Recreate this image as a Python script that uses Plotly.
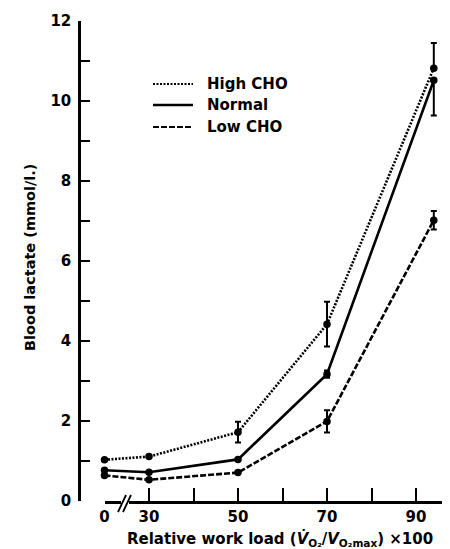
import plotly.graph_objects as go

# ---- data ----
work_load = [0, 30, 50, 70, 94]          # relative work load (%VO2max)
high_cho = [1.03, 1.11, 1.72, 4.42, 10.82]
high_err_up = [0, 0, 0.26, 0.56, 0.63]
high_err_dn = [0, 0, 0.26, 0.56, 0.0]
normal = [0.77, 0.72, 1.04, 3.17, 10.52]
normal_err_up = [0, 0, 0, 0.09, 0.0]
normal_err_dn = [0, 0, 0, 0.09, 0.88]
low_cho = [0.64, 0.53, 0.71, 1.99, 7.02]
low_err = [0, 0, 0, 0.28, 0.23]
series_names = ["High CHO", "Normal", "Low CHO"]
x_tick_values = [0, 30, 40, 50, 60, 70, 80, 90]
x_tick_labels = ["0", "30", "", "50", "", "70", "", "90"]
y_tick_values = list(range(0, 13))
y_tick_labels = ["0", "", "2", "", "4", "", "6", "", "8", "", "10", "", "12"]

# broken axis: value 0 is drawn at position 20
def xpos(v):
    return 20 if v == 0 else v

xs = [xpos(v) for v in work_load]

W, H = 450, 549
L, R, T, B = 71, 0, 13, 56
plot_w = W - L - R
plot_h = H - T - B
px_per_unit = 4.45
x_start_px = 96.5
xr0 = 20
xr1 = 20 + (W - R - x_start_px) / px_per_unit
xdom0 = (x_start_px - L) / plot_w

FONT = "DejaVu Sans"

def px2paper_x(px):
    return (px - L) / plot_w

def px2paper_y(py):
    return (H - B - py) / plot_h

fig = go.Figure()

styles = [
    dict(dash="2px,1.5px", width=2.6),
    dict(dash="solid", width=2.6),
    dict(dash="6px,2px", width=2.6),
]
ys = [high_cho, normal, low_cho]
errs = [(high_err_up, high_err_dn), (normal_err_up, normal_err_dn), (low_err, low_err)]

for name, y, st, (eu, ed) in zip(series_names, ys, styles, errs):
    fig.add_trace(go.Scatter(
        x=xs, y=y, name=name, mode="lines+markers",
        line=dict(color="black", width=st["width"], dash=st["dash"]),
        marker=dict(color="black", size=7.5),
        error_y=dict(type="data", symmetric=False, array=eu, arrayminus=ed,
                     color="black", thickness=2, width=3),
        cliponaxis=False, showlegend=False,
    ))

fig.update_layout(
    width=W, height=H,
    margin=dict(l=L, r=R, t=T, b=B, pad=0),
    paper_bgcolor="white", plot_bgcolor="white",
    font=dict(family=FONT, color="black", size=15),
    xaxis=dict(domain=[xdom0, 1], range=[xr0, xr1], showgrid=False, zeroline=False,
               showline=True, linecolor="black", linewidth=2.5,
               ticks="inside", ticklen=13, tickwidth=2, tickcolor="black",
               tickvals=[xpos(v) for v in x_tick_values],
               ticktext=[f"<b>{t}</b>" if t else "" for t in x_tick_labels],
               tickfont=dict(size=15, family=FONT),
               ticklabelstandoff=0),
    yaxis=dict(range=[0, 12], anchor="free", position=0, showgrid=False, zeroline=False,
               showline=True, linecolor="black", linewidth=2.5,
               ticks="inside", ticklen=9, tickwidth=2, tickcolor="black",
               tickvals=y_tick_values,
               ticktext=[f"<b>{t}</b>" if t else "" for t in y_tick_labels],
               tickfont=dict(size=15, family=FONT),
               ticklabelstandoff=4),
)

# axis break marks
shapes = []
shapes.append(dict(type="rect", xref="paper", yref="paper",
                   x0=px2paper_x(113), x1=px2paper_x(121),
                   y0=px2paper_y(498), y1=px2paper_y(488),
                   fillcolor="white", line=dict(width=0), layer="above"))
for dx in (0, 5):
    shapes.append(dict(type="line", xref="paper", yref="paper",
                       x0=px2paper_x(110 + dx), y0=px2paper_y(504),
                       x1=px2paper_x(118 + dx), y1=px2paper_y(487),
                       line=dict(color="black", width=1.8), layer="above"))

# legend (manual)
leg_rows = [76, 97, 119]
for name, st, ry in zip(series_names, styles, leg_rows):
    shapes.append(dict(type="line", xref="paper", yref="paper",
                       x0=px2paper_x(145), x1=px2paper_x(185),
                       y0=px2paper_y(ry), y1=px2paper_y(ry),
                       line=dict(color="black", width=2.4 if st["dash"] == "solid" else 2.2,
                                 dash=st["dash"])))
    fig.add_annotation(text=f"<b>{name}</b>", xref="paper", yref="paper",
                       x=px2paper_x(197), y=px2paper_y(ry), xanchor="left", yanchor="middle",
                       showarrow=False, font=dict(size=15, family=FONT))
fig.update_layout(shapes=shapes)

# axis titles
fig.add_annotation(text="<b>Blood lactate (mmol/l.)</b>", textangle=-90,
                   xref="paper", yref="paper", x=px2paper_x(22), y=px2paper_y(250),
                   xanchor="center", yanchor="middle", showarrow=False,
                   font=dict(size=14.5, family=FONT))
fig.add_annotation(text="<b>Relative work load (<i>V̇</i><sub>O₂</sub>/<i>V</i><sub>O₂max</sub>) ×100</b>",
                   xref="paper", yref="paper", x=px2paper_x(272), y=px2paper_y(531),
                   xanchor="center", yanchor="middle", showarrow=False,
                   font=dict(size=15, family=FONT))

fig.write_html("out.html")
